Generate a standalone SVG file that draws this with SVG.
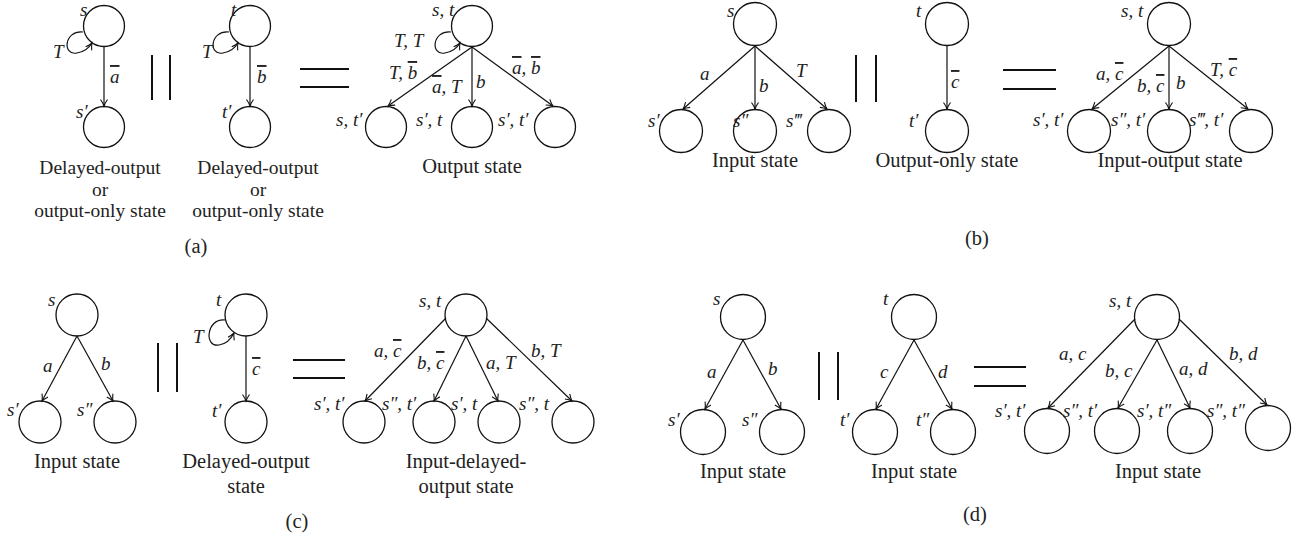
<svg xmlns="http://www.w3.org/2000/svg" width="1306" height="544" viewBox="0 0 1306 544">
<defs>
<marker id="arr" markerWidth="12" markerHeight="12" refX="7" refY="4" orient="auto" markerUnits="userSpaceOnUse">
<path d="M0.5,0.5 Q4,3 7,4 Q4,5 0.5,7.5" fill="none" stroke="#111" stroke-width="1.1"/>
</marker>
<style>
.nd circle{fill:#fff;stroke:#111;stroke-width:1.3}
.e{fill:none;stroke:#111;stroke-width:1.2;marker-end:url(#arr)}
.lab{font-family:"Liberation Serif","DejaVu Serif",serif;font-style:italic;font-size:19px;fill:#222}
.cap{font-family:"Liberation Serif","DejaVu Serif",serif;font-size:20.5px;fill:#222;text-anchor:middle}
.cap3{font-size:19.5px}
.ol{text-decoration:overline}
.bar{stroke:#111;stroke-width:2}
</style>
</defs>
<rect width="1306" height="544" fill="#fff"/>

<!-- Panel (a) -->
<g id="a_s" class="nd"><circle cx="104" cy="26" r="20.5"/><text class="lab" x="80" y="16">s</text></g>
<g id="a_s1" class="nd"><circle cx="104" cy="127" r="20.5"/><text class="lab" x="76" y="118">s′</text></g>
<g id="a_t" class="nd"><circle cx="250" cy="26" r="20.5"/><text class="lab" x="231" y="16">t</text></g>
<g id="a_t1" class="nd"><circle cx="250" cy="127" r="20.5"/><text class="lab" x="222" y="118">t′</text></g>
<g id="a_st" class="nd"><circle cx="472" cy="26" r="20.5"/><text class="lab" x="432" y="16">s, t</text></g>
<g id="a_c1" class="nd"><circle cx="386" cy="127" r="20.5"/><text class="lab" x="336" y="126">s, t′</text></g>
<g id="a_c2" class="nd"><circle cx="472" cy="127" r="20.5"/><text class="lab" x="416" y="126">s′, t</text></g>
<g id="a_c3" class="nd"><circle cx="555" cy="127" r="20.5"/><text class="lab" x="498" y="126">s′, t′</text></g>

<!-- Panel (b) -->
<g id="b_s" class="nd"><circle cx="755" cy="24" r="21.5"/><text class="lab" x="727" y="17">s</text></g>
<g id="b_s1" class="nd"><circle cx="681" cy="131" r="21.5"/><text class="lab" x="648" y="127">s′</text></g>
<g id="b_s2" class="nd"><circle cx="755" cy="131" r="21.5"/><text class="lab" x="733" y="127">s″</text></g>
<g id="b_s3" class="nd"><circle cx="829" cy="131" r="21.5"/><text class="lab" x="786" y="127">s‴</text></g>
<g id="b_t" class="nd"><circle cx="947" cy="24" r="21.5"/><text class="lab" x="916" y="17">t</text></g>
<g id="b_t1" class="nd"><circle cx="947" cy="131" r="21.5"/><text class="lab" x="909" y="127">t′</text></g>
<g id="b_st" class="nd"><circle cx="1169" cy="24" r="21.5"/><text class="lab" x="1121" y="17">s, t</text></g>
<g id="b_c1" class="nd"><circle cx="1089" cy="131" r="21.5"/><text class="lab" x="1033" y="126">s′, t′</text></g>
<g id="b_c2" class="nd"><circle cx="1169" cy="131" r="21.5"/><text class="lab" x="1111" y="126">s″, t′</text></g>
<g id="b_c3" class="nd"><circle cx="1251" cy="131" r="21.5"/><text class="lab" x="1189" y="126">s‴, t′</text></g>

<!-- Panel (c) -->
<g id="c_s" class="nd"><circle cx="77" cy="315" r="21"/><text class="lab" x="48" y="306">s</text></g>
<g id="c_s1" class="nd"><circle cx="40" cy="422" r="21"/><text class="lab" x="7" y="416">s′</text></g>
<g id="c_s2" class="nd"><circle cx="115" cy="422" r="21"/><text class="lab" x="77" y="416">s″</text></g>
<g id="c_t" class="nd"><circle cx="246" cy="315" r="21"/><text class="lab" x="216" y="306">t</text></g>
<g id="c_t1" class="nd"><circle cx="246" cy="422" r="21"/><text class="lab" x="212" y="417">t′</text></g>
<g id="c_st" class="nd"><circle cx="466" cy="315" r="21"/><text class="lab" x="419" y="307">s, t</text></g>
<g id="c_c1" class="nd"><circle cx="364" cy="422" r="21"/><text class="lab" x="314" y="410">s′, t′</text></g>
<g id="c_c2" class="nd"><circle cx="434" cy="422" r="21"/><text class="lab" x="382" y="410">s″, t′</text></g>
<g id="c_c3" class="nd"><circle cx="499" cy="422" r="21"/><text class="lab" x="451" y="410">s′, t</text></g>
<g id="c_c4" class="nd"><circle cx="573" cy="422" r="21"/><text class="lab" x="519" y="410">s″, t</text></g>

<!-- Panel (d) -->
<g id="d_s" class="nd"><circle cx="743" cy="317" r="22.5"/><text class="lab" x="713" y="305">s</text></g>
<g id="d_s1" class="nd"><circle cx="703" cy="432" r="22.5"/><text class="lab" x="668" y="426">s′</text></g>
<g id="d_s2" class="nd"><circle cx="782" cy="432" r="22.5"/><text class="lab" x="742" y="426">s″</text></g>
<g id="d_t" class="nd"><circle cx="914" cy="317" r="22.5"/><text class="lab" x="883" y="305">t</text></g>
<g id="d_t1" class="nd"><circle cx="875" cy="432" r="22.5"/><text class="lab" x="840" y="426">t′</text></g>
<g id="d_t2" class="nd"><circle cx="953" cy="432" r="22.5"/><text class="lab" x="916" y="426">t″</text></g>
<g id="d_st" class="nd"><circle cx="1157" cy="317" r="22.5"/><text class="lab" x="1109" y="307">s, t</text></g>
<g id="d_c1" class="nd"><circle cx="1047" cy="431" r="22.5"/><text class="lab" x="995" y="417">s′, t′</text></g>
<g id="d_c2" class="nd"><circle cx="1117" cy="431" r="22.5"/><text class="lab" x="1063" y="417">s″, t′</text></g>
<g id="d_c3" class="nd"><circle cx="1190" cy="431" r="22.5"/><text class="lab" x="1137" y="417">s′, t″</text></g>
<g id="d_c4" class="nd"><circle cx="1268" cy="428" r="22.5"/><text class="lab" x="1207" y="417">s″, t″</text></g>

<g id="connectors">
<!-- (a) -->
<path class="e" d="M104,47 L104,106"/>
<path class="e" d="M83,32 C64,30 62,56 77,53 C84,52 89,48 92,43"/>
<path class="e" d="M250,47 L250,106"/>
<path class="e" d="M229,32 C210,30 208,56 223,53 C230,52 235,48 238,43"/>
<path class="e" d="M472,47 L388,106"/>
<path class="e" d="M472,47 L472,106"/>
<path class="e" d="M472,47 L553,106"/>
<path class="e" d="M451,32 C432,30 430,56 445,53 C452,52 457,48 460,43"/>
<!-- (b) -->
<path class="e" d="M755,46 L683,109"/>
<path class="e" d="M755,46 L755,109"/>
<path class="e" d="M755,46 L827,109"/>
<path class="e" d="M947,46 L947,109"/>
<path class="e" d="M1169,46 L1092,109"/>
<path class="e" d="M1169,46 L1169,109"/>
<path class="e" d="M1169,46 L1248,109"/>
<!-- (c) -->
<path class="e" d="M77,336 L42,401"/>
<path class="e" d="M77,336 L113,401"/>
<path class="e" d="M246,336 L246,401"/>
<path class="e" d="M225,320 C206,318 204,348 219,345 C226,344 231,339 234,333"/>
<path class="e" d="M446,318 L365,401"/>
<path class="e" d="M466,336 L434,401"/>
<path class="e" d="M466,336 L498,401"/>
<path class="e" d="M486,318 L572,401"/>
<!-- (d) -->
<path class="e" d="M743,340 L705,409"/>
<path class="e" d="M743,340 L781,409"/>
<path class="e" d="M914,340 L876,409"/>
<path class="e" d="M914,340 L952,409"/>
<path class="e" d="M1135,319 L1048,408"/>
<path class="e" d="M1157,340 L1118,408"/>
<path class="e" d="M1157,340 L1190,408"/>
<path class="e" d="M1179,319 L1267,405"/>

<!-- edge labels (a) -->
<text class="lab" x="53" y="58">T</text>
<text class="lab" x="110" y="83"><tspan class="ol">a</tspan></text>
<text class="lab" x="202" y="58">T</text>
<text class="lab" x="257" y="83"><tspan class="ol">b</tspan></text>
<text class="lab" x="394" y="47">T, T</text>
<text class="lab" x="389" y="79">T, <tspan class="ol">b</tspan></text>
<text class="lab" x="432" y="93"><tspan class="ol">a</tspan>, T</text>
<text class="lab" x="476" y="88">b</text>
<text class="lab" x="512" y="74"><tspan class="ol">a</tspan>, <tspan class="ol">b</tspan></text>
<!-- (b) -->
<text class="lab" x="700" y="80">a</text>
<text class="lab" x="759" y="92">b</text>
<text class="lab" x="796" y="77">T</text>
<text class="lab" x="951" y="88"><tspan class="ol">c</tspan></text>
<text class="lab" x="1096" y="80">a, <tspan class="ol">c</tspan></text>
<text class="lab" x="1137" y="92">b, <tspan class="ol">c</tspan></text>
<text class="lab" x="1176" y="89">b</text>
<text class="lab" x="1210" y="76">T, <tspan class="ol">c</tspan></text>
<!-- (c) -->
<text class="lab" x="43" y="372">a</text>
<text class="lab" x="101" y="370">b</text>
<text class="lab" x="193" y="343">T</text>
<text class="lab" x="252" y="375"><tspan class="ol">c</tspan></text>
<text class="lab" x="374" y="357">a, <tspan class="ol">c</tspan></text>
<text class="lab" x="417" y="369">b, <tspan class="ol">c</tspan></text>
<text class="lab" x="486" y="369">a, T</text>
<text class="lab" x="531" y="357">b, T</text>
<!-- (d) -->
<text class="lab" x="707" y="378">a</text>
<text class="lab" x="768" y="375">b</text>
<text class="lab" x="880" y="378">c</text>
<text class="lab" x="938" y="378">d</text>
<text class="lab" x="1059" y="360">a, c</text>
<text class="lab" x="1105" y="377">b, c</text>
<text class="lab" x="1179" y="375">a, d</text>
<text class="lab" x="1229" y="360">b, d</text>
</g>

<!-- operators -->
<g id="operators">
<line class="bar" x1="152" y1="55" x2="152" y2="100"/><line class="bar" x1="170" y1="55" x2="170" y2="100"/>
<line class="bar" x1="300" y1="69" x2="349" y2="69"/><line class="bar" x1="300" y1="87" x2="349" y2="87"/>
<line class="bar" x1="856" y1="55" x2="856" y2="102"/><line class="bar" x1="876" y1="55" x2="876" y2="102"/>
<line class="bar" x1="1003" y1="70" x2="1056" y2="70"/><line class="bar" x1="1003" y1="89" x2="1056" y2="89"/>
<line class="bar" x1="158" y1="343" x2="158" y2="392"/><line class="bar" x1="177" y1="343" x2="177" y2="392"/>
<line class="bar" x1="293" y1="360" x2="345" y2="360"/><line class="bar" x1="293" y1="378" x2="345" y2="378"/>
<line class="bar" x1="819" y1="352" x2="819" y2="400"/><line class="bar" x1="838" y1="352" x2="838" y2="400"/>
<line class="bar" x1="974" y1="367" x2="1026" y2="367"/><line class="bar" x1="974" y1="386" x2="1026" y2="386"/>
</g>

<!-- captions -->
<g id="captions">
<text class="cap cap3" x="100" y="174"><tspan x="100">Delayed-output</tspan><tspan x="100" dy="21.5">or</tspan><tspan x="100" dy="21.5">output-only state</tspan></text>
<text class="cap cap3" x="258" y="174"><tspan x="258">Delayed-output</tspan><tspan x="258" dy="21.5">or</tspan><tspan x="258" dy="21.5">output-only state</tspan></text>
<text class="cap" x="472" y="173">Output state</text>
<text class="cap" x="196" y="253">(a)</text>
<text class="cap" x="755" y="167">Input state</text>
<text class="cap" x="947" y="167">Output-only state</text>
<text class="cap" x="1170" y="167">Input-output state</text>
<text class="cap" x="977" y="245">(b)</text>
<text class="cap" x="77" y="468">Input state</text>
<text class="cap" x="246" y="468"><tspan x="246">Delayed-output</tspan><tspan x="246" dy="25">state</tspan></text>
<text class="cap" x="466" y="468"><tspan x="466">Input-delayed-</tspan><tspan x="466" dy="25">output state</tspan></text>
<text class="cap" x="297" y="528">(c)</text>
<text class="cap" x="743" y="478">Input state</text>
<text class="cap" x="914" y="478">Input state</text>
<text class="cap" x="1158" y="478">Input state</text>
<text class="cap" x="975" y="521">(d)</text>
</g>
</svg>
